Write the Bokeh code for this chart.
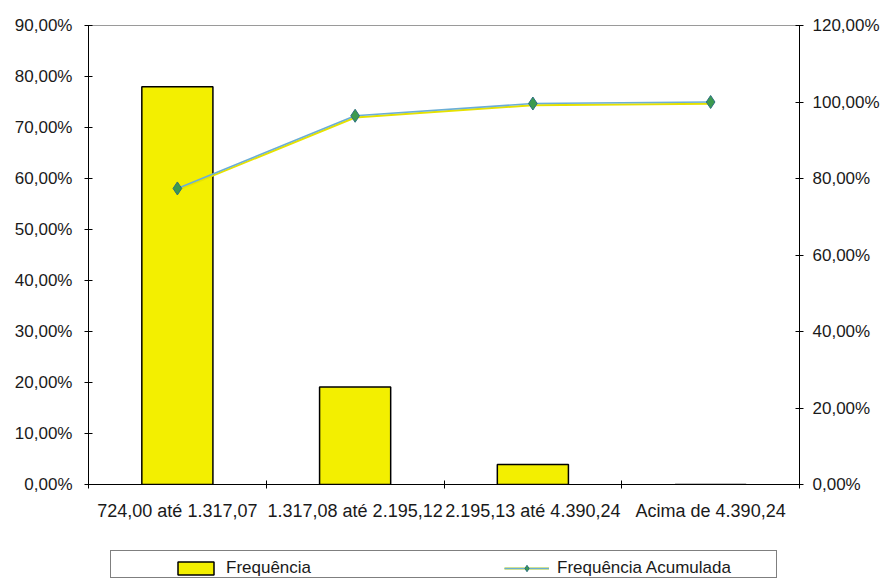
import numpy as np
from bokeh.plotting import figure
from bokeh.layouts import column
from bokeh.models import Range1d, LinearAxis, FixedTicker, Legend, LegendItem
from bokeh.embed import file_html
from bokeh.resources import INLINE

# ---- data ----
categories = ["724,00 até 1.317,07", "1.317,08 até 2.195,12",
              "2.195,13 até 4.390,24", "Acima de 4.390,24"]
frequencia = [78.0, 19.1, 3.9, 0.0]          # left axis (%)
acumulada = [77.4, 96.4, 99.6, 100.0]        # right axis (%)
left_ticks = [0, 10, 20, 30, 40, 50, 60, 70, 80, 90]
right_ticks = [0, 20, 40, 60, 80, 100, 120]


def pct(v):
    return f"{v:.2f}".replace(".", ",") + "%"


FONT = "Liberation Sans"
TXT = "#1a1a1a"
BAR_FILL = "#f3ef00"
SHADOW = "#e6e200"
BLUE = "#6aaed6"
MK_FILL = "#3c9a4e"
MK_LINE = "#2b6f80"

x = list(np.arange(len(categories)) + 0.5)
bounds = list(range(len(categories) + 1))

p = figure(width=882, height=540, output_backend="svg", toolbar_location=None,
           x_range=Range1d(0, len(categories)), y_range=Range1d(0, left_ticks[-1]),
           min_border_left=88, min_border_right=80, min_border_top=25,
           min_border_bottom=56, background_fill_color="white",
           border_fill_color="white")
p.grid.visible = False
p.outline_line_color = "#9a9a9a"
p.outline_line_width = 1

# x axis: labels at category centres, tick marks at boundaries
xa = p.xaxis[0]
xa.ticker = FixedTicker(ticks=x, minor_ticks=bounds)
xa.major_label_overrides = {float(xi): c for xi, c in zip(x, categories)}
xa.major_tick_in = 0
xa.major_tick_out = 0
xa.minor_tick_in = 4
xa.minor_tick_out = 4
xa.minor_tick_line_color = "black"
xa.axis_line_color = "black"
xa.major_label_text_font = FONT
xa.major_label_text_font_size = "18px"
xa.major_label_text_color = TXT
xa.major_label_standoff = 12

# left axis
ya = p.yaxis[0]
ya.ticker = FixedTicker(ticks=left_ticks)
ya.major_label_overrides = {t: pct(t) for t in left_ticks}
ya.major_tick_in = 4
ya.major_tick_out = 4
ya.major_tick_line_color = "black"
ya.axis_line_color = "black"
ya.major_label_text_font = FONT
ya.major_label_text_font_size = "17px"
ya.major_label_text_color = TXT
ya.major_label_standoff = 12

# right axis
p.extra_y_ranges = {"acum": Range1d(0, right_ticks[-1]),
                    "sombra": Range1d(0.45, right_ticks[-1] + 0.45)}
ra = LinearAxis(y_range_name="acum", ticker=FixedTicker(ticks=right_ticks))
ra.major_label_overrides = {t: pct(t) for t in right_ticks}
ra.major_tick_in = 4
ra.major_tick_out = 4
ra.major_tick_line_color = "black"
ra.axis_line_color = "black"
ra.major_label_text_font = FONT
ra.major_label_text_font_size = "17px"
ra.major_label_text_color = TXT
ra.major_label_standoff = 9
p.add_layout(ra, "right")

# bars
p.vbar(x=x, top=frequencia, bottom=0, width=0.4,
       fill_color=BAR_FILL, line_color="black", line_width=1.5)

# cumulative line (yellow shadow + blue line + green diamonds)
p.line(x, acumulada, y_range_name="sombra", line_color=SHADOW, line_width=2)
p.line(x, acumulada, y_range_name="acum", line_color=BLUE, line_width=1.6)
p.scatter(x, acumulada, y_range_name="acum", marker="diamond", size=13,
          fill_color=MK_FILL, line_color=MK_LINE, line_width=1)

# ---- legend strip (separate small figure below; its frame aligns with p's) ----
q = figure(width=882, height=38, output_backend="svg", toolbar_location=None,
           x_range=Range1d(0, len(categories)), y_range=Range1d(5000, 5001),
           x_axis_type=None, y_axis_type=None,
           min_border_left=88, min_border_right=80,
           min_border_top=0, min_border_bottom=0,
           outline_line_color=None, background_fill_color="white",
           border_fill_color="white")
q.grid.visible = False

# same series, kept far outside the strip's visible range: only their legend swatches show
lb = q.vbar(x=x, top=frequencia, bottom=0, width=0.4, fill_color=BAR_FILL,
            line_color="black", line_width=1.5)
ls = q.line(x, acumulada, line_color=SHADOW, line_width=2)
ll = q.line(x, acumulada, line_color=BLUE, line_width=1.6)
lm = q.scatter(x, acumulada, marker="diamond", size=13, fill_color=MK_FILL,
               line_color=MK_LINE, line_width=1)
ghost = q.scatter(x, acumulada, alpha=0)

box = Legend(items=[LegendItem(label=" ", renderers=[ghost])],
             location=(22, 0), orientation="horizontal", margin=0,
             padding=5, glyph_width=45, glyph_height=16, label_width=605,
             label_standoff=5, border_line_color="black", border_line_width=1,
             background_fill_color="white", background_fill_alpha=1,
             label_text_font_size="17px")
q.add_layout(box, "center")

leg = Legend(items=[LegendItem(label="Frequência", renderers=[lb]),
                    LegendItem(label="Frequência Acumulada", renderers=[ls, ll, lm])],
             location=(85, 0), orientation="horizontal", margin=0,
             padding=5, glyph_width=45, glyph_height=16, label_width=250,
             label_standoff=8, spacing=28, border_line_color=None,
             background_fill_alpha=0,
             label_text_font=FONT, label_text_font_size="17px",
             label_text_color=TXT)
q.add_layout(leg, "center")

layout = column(p, q, spacing=0)
open("out.html", "w").write(file_html(layout, INLINE))
